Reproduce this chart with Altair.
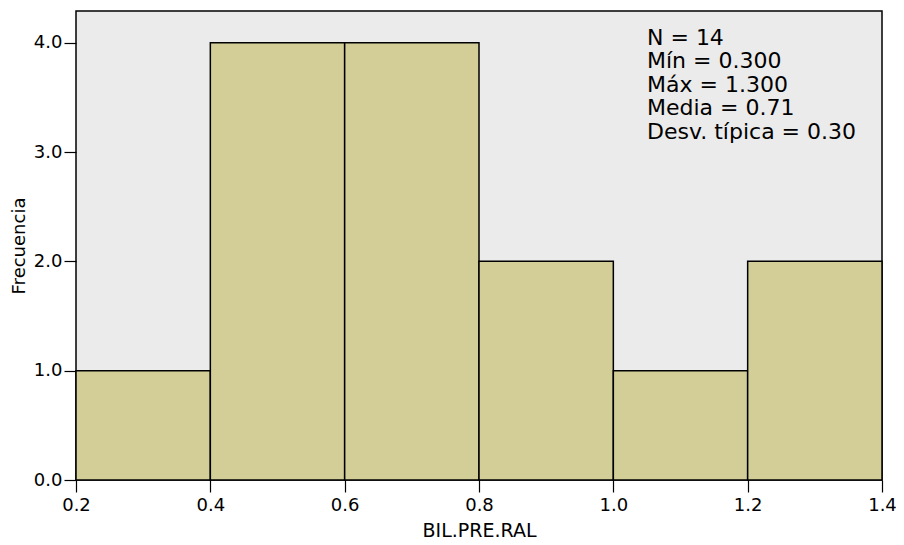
import altair as alt
import pandas as pd

bin_start = [0.2, 0.4, 0.6, 0.8, 1.0, 1.2]
bin_end = [0.4, 0.6, 0.8, 1.0, 1.2, 1.4]
counts = [1, 4, 4, 2, 1, 2]
x_ticks = [0.2, 0.4, 0.6, 0.8, 1.0, 1.2, 1.4]
y_ticks = [0.0, 1.0, 2.0, 3.0, 4.0]
stats_lines = ["N = 14", "Mín = 0.300", "Máx = 1.300", "Media = 0.71", "Desv. típica = 0.30"]

df = pd.DataFrame({"start": bin_start, "end": bin_end, "count": counts, "base": [0] * len(counts)})

FONT = "DejaVu Sans"

x_scale = alt.Scale(domain=[0.2, 1.4], nice=False, zero=False)
y_scale = alt.Scale(domain=[0, 4.29], nice=False)

bars = alt.Chart(df).mark_bar(
    fill="#D3CE98", stroke="black", strokeWidth=1.5, opacity=1
).encode(
    x=alt.X("start:Q", scale=x_scale,
            axis=alt.Axis(values=x_ticks, format=".1f", title="BIL.PRE.RAL",
                          grid=False, domain=False, tickSize=12, tickColor="black",
                          tickWidth=1.2, labelPadding=4, titlePadding=7,
                          labelFontSize=18, titleFontSize=19, labelFont=FONT,
                          titleFont=FONT, labelColor="black", titleColor="black",
                          titleFontWeight="normal", labelFlush=False)),
    x2="end:Q",
    y=alt.Y("count:Q", scale=y_scale,
            axis=alt.Axis(values=y_ticks, format=".1f", title="Frecuencia",
                          grid=False, domain=False, tickSize=12, tickColor="black",
                          tickWidth=1.2, labelPadding=2, titlePadding=5,
                          labelFontSize=18, titleFontSize=18, labelFont=FONT,
                          titleFont=FONT, labelColor="black", titleColor="black",
                          titleFontWeight="normal", labelFlush=False)),
    y2="base:Q",
)

stats = alt.Chart(pd.DataFrame({"t": [0]})).mark_text(
    text=stats_lines, align="left", baseline="alphabetic", font=FONT,
    fontSize=22, lineHeight=23.4, color="black"
).encode(x=alt.value(571), y=alt.value(34))

chart = alt.layer(bars, stats).properties(
    width=806, height=469,
    autosize=alt.AutoSizeParams(type="none"),
    padding={"left": 68, "top": 3, "right": 14, "bottom": 62},
    background="white",
).configure_view(
    fill="#EBEBEB", stroke="black", strokeWidth=1.5
)

chart.save("out.html", embed_options={"renderer": "svg", "actions": False})
